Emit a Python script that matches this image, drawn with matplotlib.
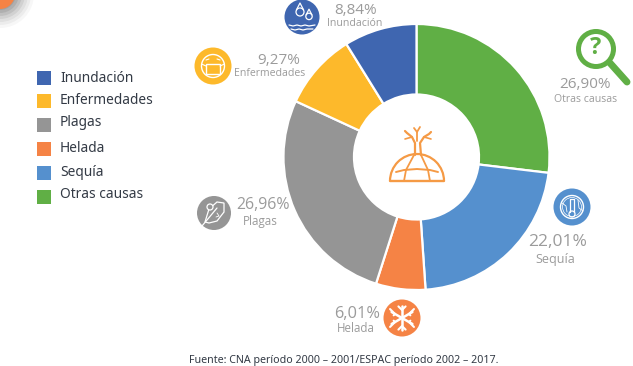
import matplotlib as mpl
mpl.use('Agg')
import matplotlib.pyplot as plt
from matplotlib.patches import Circle, Rectangle, Ellipse, Arc, Polygon

names = ["Otras causas", "Sequía", "Helada", "Plagas", "Enfermedades", "Inundación"]
values = [26.90, 22.01, 6.01, 26.96, 9.27, 8.84]
pct_labels = ["26,90%", "22,01%", "6,01%", "26,96%", "9,27%", "8,84%"]
colors = ["#60AF45", "#5590CE", "#F58345", "#959595", "#FDB92B", "#3F66B0"]
legend_order = ["Inundación", "Enfermedades", "Plagas", "Helada", "Sequía", "Otras causas"]
source = "Fuente: CNA período 2000 – 2001/ESPAC período 2002 – 2017."

W, H = 633, 366
GREY = "#9b9b9b"
ORANGE = "#F59A45"

fig = plt.figure(figsize=(W / 100, H / 100), dpi=100)

# donut
cx, cy, r = 416.5, 157, 133
ax = fig.add_axes([(cx - r) / W, 1 - (cy + r) / H, 2 * r / W, 2 * r / H])
ax.pie(values, colors=colors, startangle=90, counterclock=False, radius=1,
       wedgeprops=dict(width=0.53, edgecolor="white", linewidth=1.6))
ax.set_xlim(-1, 1)
ax.set_ylim(-1, 1)

# overlay in pixel coordinates, for legend, labels and icons
ov = fig.add_axes([0, 0, 1, 1], zorder=5)
ov.set_xlim(0, W)
ov.set_ylim(H, 0)
ov.axis("off")
ov.patch.set_alpha(0)


def line(xs, ys, c="white", lw=1.0):
    ov.plot(xs, ys, color=c, lw=lw, solid_capstyle="round", solid_joinstyle="round")


# corner blob with shadow
for rad, alpha in [(34, .06), (31, .08), (28, .10), (25, .14), (22, .18), (19, .22), (16, .25)]:
    ov.add_patch(Circle((0, -6), rad, fc="#777777", ec="none", alpha=alpha))
ov.add_patch(Circle((0, -6), 15, fc="#F58345", ec="none"))

# legend
color_of = dict(zip(names, colors))
box_y = [71, 94, 118, 142, 166, 190]
text_y = [78, 100, 122, 148, 172, 195]
for name, by, ty in zip(legend_order, box_y, text_y):
    ov.add_patch(Rectangle((37, by), 14, 14, fc=color_of[name], ec="none"))
    ov.text(60, ty, name, fontsize=9.9, family="Noto Sans", color="#333a45",
            va="center", ha="left")

# percent labels, same order as values
pct_pos = [(585, 85), (558, 242), (357, 314), (263, 205), (279, 61), (356, 10)]
pct_size = [11, 12.5, 11.8, 11.4, 11, 11]
name_pos = [(586, 99), (555, 260), (356, 329), (260, 221), (270, 74), (355, 23)]
name_size = [7.6, 9, 8.3, 8.4, 7.6, 7.6]
for i in range(len(names)):
    ov.text(pct_pos[i][0], pct_pos[i][1], pct_labels[i], fontsize=pct_size[i], family="Open Sans",
            color=GREY, ha="center", va="center")
    ov.text(name_pos[i][0], name_pos[i][1], names[i], fontsize=name_size[i],
            family="Open Sans", color=GREY, ha="center", va="center")

ov.text(344, 360, source, fontsize=7.7, family="Noto Sans", color="#333a45",
        ha="center", va="center")

# icon discs
ov.add_patch(Circle((302, 17), 17.5, fc=color_of["Inundación"], ec="none"))
ov.add_patch(Circle((213, 66), 18.5, fc=color_of["Enfermedades"], ec="none"))
ov.add_patch(Circle((572, 207), 18.5, fc=color_of["Sequía"], ec="none"))
ov.add_patch(Circle((214, 213), 17, fc=color_of["Plagas"], ec="none"))
ov.add_patch(Circle((402, 318), 18.5, fc=color_of["Helada"], ec="none"))

# water drops
for x0, y0, s in [(300, 9, 1.0), (309, 14, .8)]:
    ov.add_patch(Ellipse((x0, y0 + 3 * s), 8 * s, 8 * s, fc="none", ec="white", lw=.9))
    line([x0 - 3.6 * s, x0, x0 + 3.6 * s], [y0 + 1 * s, y0 - 6 * s, y0 + 1 * s], lw=.9)
line([289, 293, 297, 301, 305, 309, 315], [25, 26, 25, 26, 25, 26, 25], lw=.9)
line([291, 295, 299, 303, 307, 313], [29, 30, 29, 30, 29, 29], lw=.9)

# mask
ov.add_patch(Circle((213, 66), 11.5, fc="none", ec="white", lw=1.0))
ov.add_patch(Rectangle((206, 64), 14, 10, fc="none", ec="white", lw=1.0))
line([201.5, 206], [64, 66], lw=.8)
line([224.5, 220], [64, 66], lw=.8)
line([206, 209], [60, 59], lw=.8)
line([217, 220], [59, 60], lw=.8)

# globe with thermometer
ov.add_patch(Circle((572, 207), 11.5, fc="none", ec="white", lw=1.0))
ov.add_patch(Circle((572, 207), 9.5, fc="none", ec="white", lw=.5))
line([570, 570, 574, 574], [212, 199, 199, 212], lw=.9)
ov.add_patch(Circle((572, 214), 3, fc="none", ec="white", lw=.9))
line([562, 566, 567], [203, 206, 212], lw=.6)
line([578, 579, 583], [200, 208, 211], lw=.6)

# leaf and bug
ov.add_patch(Polygon([[205, 222], [209, 209], [217, 202], [224, 203], [224, 212], [217, 221], [209, 223]],
                     closed=True, fc="none", ec="white", lw=.9))
line([202, 217], [226, 208], lw=.9)
ov.add_patch(Circle((210, 207), 3, fc="#959595", ec="white", lw=.9))
line([216, 219, 217], [217, 216, 213], lw=.6)

# snowflake
for (x0, y0), (x1, y1) in [((402, 306), (402, 330)), ((391.6, 312), (412.4, 324)), ((391.6, 324), (412.4, 312))]:
    line([x0, x1], [y0, y1], lw=1.8)
for dx, dy in [(0, -8), (0, 8), (7, -4), (-7, 4), (7, 4), (-7, -4)]:
    tx, ty = 402 + dx, 318 + dy
    bx, by = 402 + 1.45 * dx, 318 + 1.45 * dy
    line([bx + dy * .45, tx, bx - dy * .45], [by + dx * .45, ty, by - dx * .45], lw=1.5)

# magnifier
GREEN = color_of["Otras causas"]
ov.add_patch(Circle((596, 49), 17.5, fc="white", ec=GREEN, lw=3.6))
line([610, 627], [63, 82], c=GREEN, lw=5)
ov.text(596, 48.5, "?", fontsize=17, family="Open Sans", weight="bold", color=GREEN,
        ha="center", va="center")

# centre icon, dome and bare tree
ov.add_patch(Arc((417, 181), 54, 54, theta1=180, theta2=360, ec=ORANGE, lw=1.6))
line([390, 444], [181, 181], c=ORANGE, lw=1.7)
line([396, 404, 417, 430, 438], [172, 170, 169, 170, 172], c=ORANGE, lw=1.4)
line([404, 406, 414], [181, 170, 155], c=ORANGE, lw=1.3)
line([430, 428, 421], [181, 170, 155], c=ORANGE, lw=1.3)
line([415, 415, 412, 407, 405], [155, 143, 137, 133, 131], c=ORANGE, lw=1.6)
line([421, 420, 424, 429, 431], [155, 143, 137, 134, 132], c=ORANGE, lw=1.6)
line([417, 417, 414], [141, 132, 128], c=ORANGE, lw=1.3)
line([417, 420], [132, 127], c=ORANGE, lw=1.3)
line([412, 405], [137, 139], c=ORANGE, lw=1.2)
line([424, 431], [137, 139], c=ORANGE, lw=1.2)

fig.savefig("out.png", dpi=100)
